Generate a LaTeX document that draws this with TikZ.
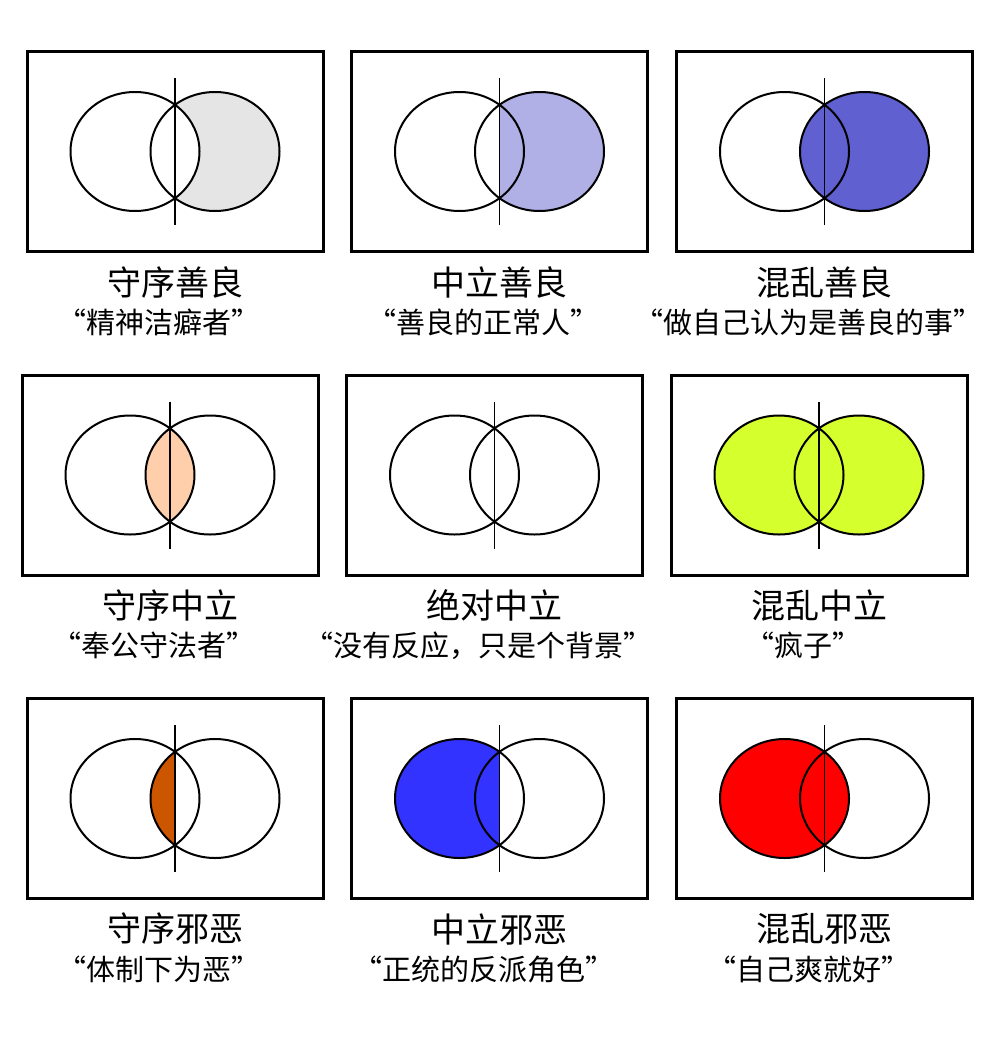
\documentclass[tikz,border=0pt]{standalone}
\usepackage{fontspec}
\setmainfont{Noto Sans CJK SC}
\usetikzlibrary{positioning}

\definecolor{lgfill}{RGB}{229,229,229}
\definecolor{ngfill}{RGB}{176,176,230}
\definecolor{cgfill}{RGB}{96,96,208}
\definecolor{lnfill}{RGB}{255,206,170}
\definecolor{cnfill}{RGB}{213,255,45}
\definecolor{lefill}{RGB}{204,85,0}
\definecolor{nefill}{RGB}{51,51,255}
\definecolor{cefill}{RGB}{255,0,0}

\begin{document}
\begin{tikzpicture}[x=1pt, y=-1pt,
  frame/.style={draw, line width=3pt, minimum width=296pt, minimum height=200pt, inner sep=0pt},
  oval/.style={x radius=64.5, y radius=59.5},
  ring/.style={line width=2pt},
  axis/.style={line width=1.5pt},
  title/.style={font=\fontsize{34}{38}\selectfont},
  motto/.style={font=\fontsize{29}{33}\selectfont}]
  \useasboundingbox (0,0) rectangle (1000,1050);

  % Fills (outlines go on top)
  % lawful good: right minus left
  \fill[lgfill] (215,151.5) ellipse [oval];
  \fill[white] (135,151.5) ellipse [oval];
  % neutral good: right of the axis
  \begin{scope}
    \clip (499.5,50) rectangle (648,253);
    \fill[ngfill] (539.5,151.5) ellipse [oval];
  \end{scope}
  % chaotic good
  \fill[cgfill] (864.5,151.5) ellipse [oval];
  % lawful neutral: the lens
  \begin{scope}
    \clip (130,475) ellipse [oval];
    \fill[lnfill] (210,475) ellipse [oval];
  \end{scope}
  % chaotic neutral: both
  \fill[cnfill] (779,475) ellipse [oval] (859,475) ellipse [oval];
  % lawful evil: left half of the lens
  \begin{scope}
    \clip (27,697) rectangle (175,900);
    \fill[lefill] (215,798.5) ellipse [oval];
  \end{scope}
  % neutral evil: left of the axis
  \begin{scope}
    \clip (351,697) rectangle (499.5,900);
    \fill[nefill] (459.5,798.5) ellipse [oval];
  \end{scope}
  % chaotic evil
  \fill[cefill] (784.5,798.5) ellipse [oval];

  % Panels
  \foreach \i/\cx/\cy/\ttl/\sub in {
      1/175/151.5/守序善良/“精神洁癖者”,
      2/499.5/151.5/中立善良/“善良的正常人”,
      3/824.5/151.5/混乱善良/“做自己认为是善良的事”,
      4/170/475/守序中立/“奉公守法者”,
      5/494.5/475/绝对中立/“没有反应，只是个背景”,
      6/819/475/混乱中立/“疯子”,
      7/175/798.5/守序邪恶/“体制下为恶”,
      8/499.5/798.5/中立邪恶/“正统的反派角色”,
      9/824.5/798.5/混乱邪恶/“自己爽就好”} {
    \draw[ring] (\cx-40,\cy) ellipse [oval];
    \draw[ring] (\cx+40,\cy) ellipse [oval];
    \coordinate (up\i) at (\cx,\cy-73.5);
    \coordinate (dn\i) at (\cx,\cy+73.5);
    \draw[axis] (up\i) -- (dn\i);
    \node[frame] (f\i) at (\cx,\cy) {};
    \node[title] (t\i) at (\cx,\cy+130.5) {\ttl};
    \node[motto] (m\i) at (\cx-16,\cy+170.5) {\sub};
  }
\end{tikzpicture}
\end{document}
